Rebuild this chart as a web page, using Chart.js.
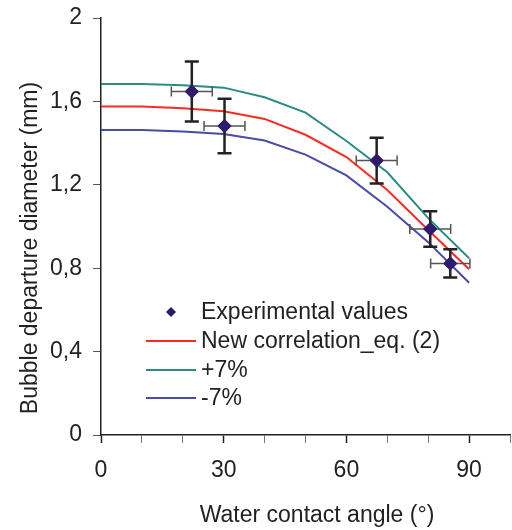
<!DOCTYPE html>
<html>
<head>
<meta charset="utf-8">
<script src="https://cdn.jsdelivr.net/npm/chart.js@4"></script>
<style>
  html, body { margin: 0; padding: 0; background: #fff; }
  canvas { display: block; }
</style>
</head>
<body>
<canvas id="bubbleChart" width="512" height="530"></canvas>
<script>
// correlation curves, every 10 degrees
const angles = [0, 10, 20, 30, 40, 50, 60, 70, 80, 90];
const correlation = [1.575, 1.575, 1.567, 1.553, 1.516, 1.440, 1.333, 1.175, 0.983, 0.795];
const plus7 = [1.683, 1.683, 1.678, 1.666, 1.620, 1.546, 1.410, 1.260, 1.040, 0.848];
const minus7 = [1.463, 1.463, 1.456, 1.444, 1.412, 1.345, 1.245, 1.095, 0.925, 0.730];

// experimental points with error bars
const expAngle = [22.2, 30.2, 67.4, 80.5, 85.4];
const expDiameter = [1.647, 1.482, 1.316, 0.988, 0.823];
const expAngleErr = [5, 5, 5, 5, 4.8];
const expDiameterErr = [0.144, 0.131, 0.11, 0.085, 0.068];

const legendLabels = ['Experimental values', 'New correlation_eq. (2)', '+7%', '-7%'];
const xTitle = 'Water contact angle (°)';
const yTitle = 'Bubble departure diameter (mm)';

const FONT = '"Liberation Sans", Arial, sans-serif';
const navy = '#2e1b6e';
const red = '#ff2a1f';
const teal = '#2b8c82';
const blue = '#4a4aa8';

function toPoints(xs, ys) {
    return xs.map((x, i) => ({x: x, y: ys[i]}));
}

//error bars, markers redrawn on top of them
const errorBars = {
    id: 'errorBars',
    afterDatasetsDraw(chart) {
        const ctx = chart.ctx;
        const xs = chart.scales.x;
        const ys = chart.scales.y;
        ctx.save();
        for (let i = 0; i < expAngle.length; i++) {
            const cx = xs.getPixelForValue(expAngle[i]);
            const cy = ys.getPixelForValue(expDiameter[i]);
            const x0 = xs.getPixelForValue(expAngle[i] - expAngleErr[i]);
            const x1 = xs.getPixelForValue(expAngle[i] + expAngleErr[i]);
            const y0 = ys.getPixelForValue(expDiameter[i] - expDiameterErr[i]);
            const y1 = ys.getPixelForValue(expDiameter[i] + expDiameterErr[i]);
            //horizontal - grey, thin
            ctx.strokeStyle = '#555';
            ctx.lineWidth = 1.5;
            ctx.beginPath();
            ctx.moveTo(x0, cy); ctx.lineTo(x1, cy);
            ctx.moveTo(x0, cy - 5); ctx.lineTo(x0, cy + 5);
            ctx.moveTo(x1, cy - 5); ctx.lineTo(x1, cy + 5);
            ctx.stroke();
            //vertical - black, thicker
            ctx.strokeStyle = '#222';
            ctx.lineWidth = 2.5;
            ctx.beginPath();
            ctx.moveTo(cx, y0); ctx.lineTo(cx, y1);
            ctx.moveTo(cx - 7, y0); ctx.lineTo(cx + 7, y0);
            ctx.moveTo(cx - 7, y1); ctx.lineTo(cx + 7, y1);
            ctx.stroke();
        }
        const meta = chart.getDatasetMeta(0);
        meta.data.forEach(pt => pt.draw(ctx, chart.chartArea));
        ctx.restore();
    }
};

//legend inside plot + axis titles
const decorations = {
    id: 'decorations',
    afterDraw(chart) {
        const ctx = chart.ctx;
        ctx.save();
        ctx.font = '23px ' + FONT;
        ctx.fillStyle = '#222';
        ctx.textBaseline = 'middle';
        ctx.textAlign = 'left';

        const rows = [312, 341, 370, 398];
        const lineColors = [null, red, teal, blue];
        rows.forEach((y, i) => {
            if (i === 0) {
                ctx.fillStyle = navy;
                ctx.beginPath();
                ctx.moveTo(171, y - 5); ctx.lineTo(176, y); ctx.lineTo(171, y + 5); ctx.lineTo(166, y);
                ctx.closePath();
                ctx.fill();
            } else {
                ctx.strokeStyle = lineColors[i];
                ctx.lineWidth = 2;
                ctx.beginPath();
                ctx.moveTo(146, y); ctx.lineTo(196, y);
                ctx.stroke();
            }
            ctx.fillStyle = '#222';
            ctx.fillText(legendLabels[i], 201, y + 1);
        });

        ctx.textAlign = 'center';
        ctx.fillText(xTitle, 317, 516);

        ctx.translate(31, 248);
        ctx.rotate(-Math.PI / 2);
        ctx.fillText(yTitle, 0, 0);
        ctx.restore();
    }
};

const chartEl = document.getElementById('bubbleChart');

new Chart(chartEl, {
    type: 'scatter',
    data: {
        datasets: [{
            label: legendLabels[0],
            data: toPoints(expAngle, expDiameter),
            showLine: false,
            pointStyle: 'rectRot',
            pointRadius: 7,
            pointBackgroundColor: navy,
            pointBorderColor: navy,
            borderWidth: 0
        }, {
            label: legendLabels[1],
            data: toPoints(angles, correlation),
            showLine: true,
            borderColor: red,
            borderWidth: 2,
            pointRadius: 0
        }, {
            label: legendLabels[2],
            data: toPoints(angles, plus7),
            showLine: true,
            borderColor: teal,
            borderWidth: 2,
            pointRadius: 0
        }, {
            label: legendLabels[3],
            data: toPoints(angles, minus7),
            showLine: true,
            borderColor: blue,
            borderWidth: 2,
            pointRadius: 0
        }]
    },
    options: {
        responsive: false,
        animation: false,
        layout: {
            autoPadding: false,
            padding: {top: 18, right: 2, left: 0, bottom: 0}
        },
        scales: {
            x: {
                type: 'linear',
                min: 0,
                max: 100,
                afterFit: (scale) => {
                    scale.height = 95;
                    scale.paddingLeft = 0;
                    scale.paddingRight = 0;
                },
                grid: {
                    drawOnChartArea: false,
                    tickLength: 8,
                    tickColor: (c) => c.tick && c.tick.value % 30 === 0 ? '#222' : '#777',
                    tickWidth: (c) => c.tick && c.tick.value % 30 === 0 ? 1.5 : 1
                },
                border: {color: '#222', width: 1.5},
                ticks: {
                    stepSize: 10,
                    autoSkip: false,
                    maxRotation: 0,
                    padding: 14,
                    color: '#222',
                    font: {family: FONT, size: 23},
                    callback: (v) => v % 30 === 0 && v <= 90 ? String(v) : ''
                }
            },
            y: {
                min: 0,
                max: 2,
                afterFit: (scale) => {
                    scale.width = 101;
                    scale.paddingTop = 0;
                    scale.paddingBottom = 0;
                },
                grid: {
                    drawOnChartArea: false,
                    tickLength: 8,
                    tickColor: '#555'
                },
                border: {color: '#222', width: 1.5},
                ticks: {
                    stepSize: 0.4,
                    padding: 11,
                    color: '#222',
                    font: {family: FONT, size: 23},
                    callback: (v) => {
                        const r = Math.round(v * 10) / 10;
                        return String(r).replace('.', ',');
                    }
                }
            }
        },
        plugins: {
            legend: {display: false},
            tooltip: {enabled: false}
        }
    },
    plugins: [errorBars, decorations]
});
</script>
</body>
</html>
